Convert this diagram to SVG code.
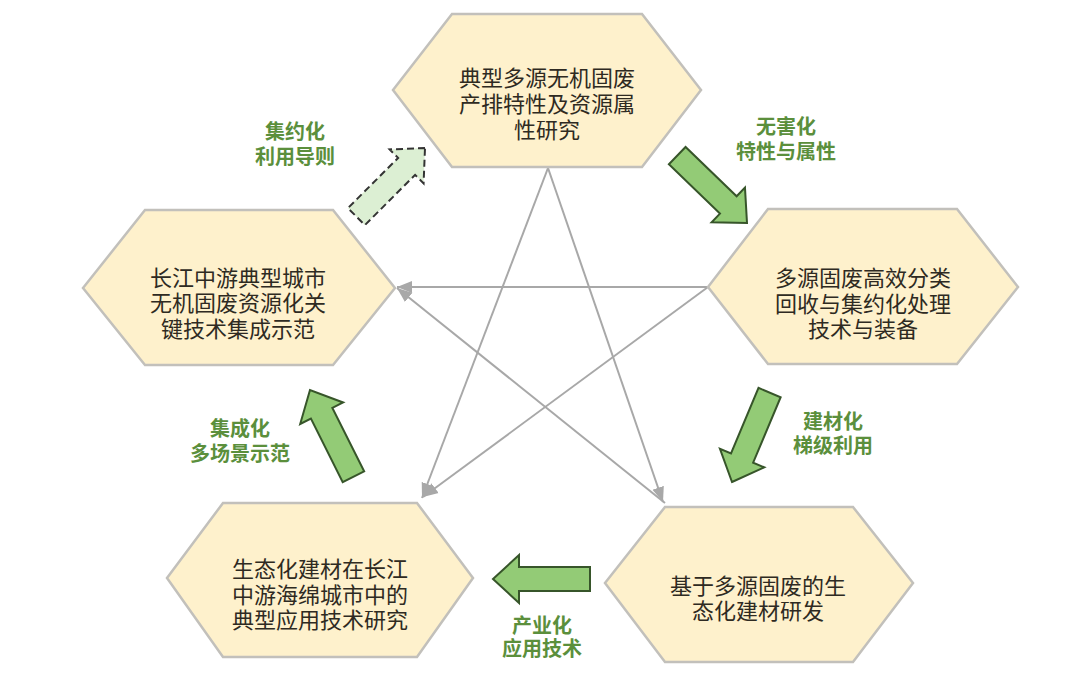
<svg xmlns="http://www.w3.org/2000/svg" width="1080" height="691" viewBox="0 0 1080 691">
<defs>
<style>
.hex{fill:#fef1cc;stroke:#c2c0bb;stroke-width:2.5;stroke-linejoin:miter}
.t{font-family:"Noto Sans CJK SC","Noto Sans",sans-serif;font-size:22px;fill:#2e2a22;text-anchor:middle}
.lb{font-family:"Noto Sans CJK SC","Noto Sans",sans-serif;font-size:20px;font-weight:bold;fill:#5b8f3c;text-anchor:middle}
.ga{fill:#93cb76;stroke:#37552a;stroke-width:2;stroke-linejoin:miter}
.da{fill:#dcefd3;stroke:#333;stroke-width:2;stroke-dasharray:7 4}
.ln{stroke:#a8a8a8;stroke-width:2;fill:none}
</style>
<marker id="ah" markerUnits="userSpaceOnUse" markerWidth="16" markerHeight="14" refX="15" refY="7" orient="auto">
<path d="M0,1 L15,7 L0,13 Z" fill="#a8a8a8"/>
</marker>
<path id="blk" d="M0,0 L-26,-24 L-26,-12 L-97,-12 L-97,12 L-26,12 L-26,24 Z"/>
</defs>
<rect width="1080" height="691" fill="#ffffff"/>

<g id="connectors">
<line class="ln" x1="548" y1="168" x2="422" y2="498" marker-end="url(#ah)"/>
<line class="ln" x1="548" y1="168" x2="663" y2="502" marker-end="url(#ah)"/>
<line class="ln" x1="708" y1="287" x2="397" y2="287" marker-end="url(#ah)"/>
<line class="ln" x1="708" y1="287" x2="423" y2="497" marker-end="url(#ah)"/>
<line class="ln" x1="665" y1="503" x2="397" y2="288" marker-end="url(#ah)"/>
</g>

<g id="node-top">
<polygon class="hex" points="393,90 452,14 642,14 701,90 642,167 452,167"/>
<text class="t" x="547" y="86">典型多源无机固废<tspan x="547" y="112">产排特性及资源属</tspan><tspan x="547" y="138">性研究</tspan></text>
</g>
<g id="node-right">
<polygon class="hex" points="708,287 768,209 957,209 1018,287 957,364 768,364"/>
<text class="t" x="863" y="286">多源固废高效分类<tspan x="863" y="312">回收与集约化处理</tspan><tspan x="863" y="337">技术与装备</tspan></text>
</g>
<g id="node-left">
<polygon class="hex" points="83,288 145,210 333,210 395,288 333,365 145,365"/>
<text class="t" x="238" y="286">长江中游典型城市<tspan x="238" y="311">无机固废资源化关</tspan><tspan x="238" y="337">键技术集成示范</tspan></text>
</g>
<g id="node-bottom-right">
<polygon class="hex" points="605,583 665,507 853,507 913,583 853,662 665,662"/>
<text class="t" x="758" y="594">基于多源固废的生<tspan x="758" y="619">态化建材研发</tspan></text>
</g>
<g id="node-bottom-left">
<polygon class="hex" points="167,578 223,503 417,503 473,578 417,657 223,657"/>
<text class="t" x="320" y="577">生态化建材在长江<tspan x="320" y="603">中游海绵城市中的</tspan><tspan x="320" y="628">典型应用技术研究</tspan></text>
</g>

<g id="flow-arrows">
<use href="#blk" class="da" transform="translate(425,148) rotate(-45)"/>
<use href="#blk" class="ga" transform="translate(747,223) rotate(44)"/>
<use href="#blk" class="ga" transform="translate(732,482) rotate(112.8)"/>
<use href="#blk" class="ga" transform="translate(493,579) rotate(180)"/>
<use href="#blk" class="ga" transform="translate(310,390) rotate(243.4)"/>
</g>

<g id="labels">
<text class="lb" x="295" y="139">集约化<tspan x="295" y="164">利用导则</tspan></text>
<text class="lb" x="786" y="134">无害化<tspan x="786" y="159">特性与属性</tspan></text>
<text class="lb" x="833" y="429">建材化<tspan x="833" y="453">梯级利用</tspan></text>
<text class="lb" x="240" y="436">集成化<tspan x="240" y="461">多场景示范</tspan></text>
<text class="lb" x="542" y="633">产业化<tspan x="542" y="656">应用技术</tspan></text>
</g>
</svg>
